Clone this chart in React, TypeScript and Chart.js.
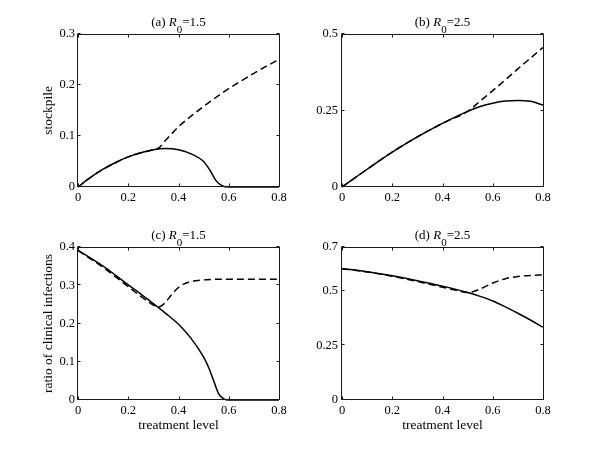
import React, { useEffect, useRef } from "react";
import { Chart, registerables } from "chart.js";

Chart.register(...registerables);

const FONT = "'Liberation Serif', 'Times New Roman', serif";

// ---- tick values ----
const X_TICKS = [0, 0.2, 0.4, 0.6, 0.8];
const Y_TICKS_A = [0, 0.1, 0.2, 0.3];
const Y_TICKS_B = [0, 0.25, 0.5];
const Y_TICKS_C = [0, 0.1, 0.2, 0.3, 0.4];
const Y_TICKS_D = [0, 0.25, 0.5, 0.7];

// ---- (a) R0 = 1.5, stockpile ----
const A_SOLID_X = [0, 0.05, 0.1, 0.15, 0.2, 0.25, 0.3, 0.35, 0.4, 0.45, 0.5, 0.525, 0.55, 0.575, 0.6, 0.7, 0.8];
const A_SOLID_Y = [0, 0.019, 0.035, 0.048, 0.059, 0.067, 0.073, 0.0755, 0.073, 0.065, 0.05, 0.033, 0.012, 0.002, 0, 0, 0];
const A_DASH_X = [0, 0.05, 0.1, 0.15, 0.2, 0.25, 0.3, 0.32, 0.35, 0.4, 0.45, 0.5, 0.55, 0.6, 0.65, 0.7, 0.75, 0.8];
const A_DASH_Y = [0, 0.019, 0.035, 0.048, 0.059, 0.067, 0.073, 0.076, 0.092, 0.118, 0.139, 0.158, 0.176, 0.193, 0.208, 0.223, 0.237, 0.25];

// ---- (b) R0 = 2.5, stockpile ----
const B_SOLID_X = [0, 0.1, 0.2, 0.3, 0.4, 0.5, 0.55, 0.6, 0.65, 0.7, 0.75, 0.8];
const B_SOLID_Y = [0, 0.058, 0.114, 0.164, 0.208, 0.247, 0.263, 0.274, 0.281, 0.283, 0.28, 0.268];
const B_DASH_X = [0, 0.1, 0.2, 0.3, 0.4, 0.5, 0.55, 0.6, 0.65, 0.7, 0.75, 0.8];
const B_DASH_Y = [0, 0.058, 0.114, 0.164, 0.208, 0.247, 0.281, 0.315, 0.35, 0.386, 0.421, 0.456];

// ---- (c) R0 = 1.5, ratio of clinical infections ----
const C_SOLID_X = [0, 0.05, 0.1, 0.15, 0.2, 0.25, 0.3, 0.35, 0.4, 0.45, 0.5, 0.52, 0.54, 0.56, 0.58, 0.6, 0.65, 0.8];
const C_SOLID_Y = [0.391, 0.371, 0.35, 0.326, 0.301, 0.277, 0.252, 0.226, 0.198, 0.161, 0.112, 0.085, 0.05, 0.016, 0.003, 0, 0, 0];
const C_DASH_X = [0, 0.05, 0.1, 0.15, 0.2, 0.25, 0.3, 0.32, 0.34, 0.36, 0.38, 0.4, 0.42, 0.45, 0.5, 0.55, 0.6, 0.8];
const C_DASH_Y = [0.391, 0.369, 0.347, 0.322, 0.296, 0.271, 0.248, 0.243, 0.25, 0.265, 0.281, 0.294, 0.303, 0.31, 0.314, 0.3155, 0.316, 0.316];

// ---- (d) R0 = 2.5, ratio of clinical infections ----
const D_SOLID_X = [0, 0.1, 0.2, 0.3, 0.4, 0.5, 0.55, 0.6, 0.65, 0.7, 0.75, 0.8];
const D_SOLID_Y = [0.601, 0.587, 0.568, 0.546, 0.521, 0.492, 0.474, 0.453, 0.426, 0.397, 0.366, 0.333];
const D_DASH_X = [0, 0.1, 0.2, 0.3, 0.4, 0.45, 0.5, 0.52, 0.55, 0.6, 0.65, 0.7, 0.75, 0.8];
const D_DASH_Y = [0.601, 0.586, 0.566, 0.542, 0.516, 0.503, 0.492, 0.495, 0.508, 0.535, 0.555, 0.565, 0.57, 0.572];

const pts = (xs: number[], ys: number[]) => xs.map((x, i) => ({ x, y: ys[i] }));

type Panel = {
  left: number;
  top: number;
  width: number;
  height: number;
  yAxisWidth: number;
  padTop: number;
  padRight: number;
  xAxisHeight: number;
  prefix: string;
  r0: string;
  yTicks: number[];
  yMax: number;
  yPad: number;
  yTitle?: string;
  xTitle?: string;
  solid: { x: number; y: number }[];
  dashed: { x: number; y: number }[];
};

const PANELS: Panel[] = [
  {
    left: 0, top: 0, width: 300, height: 225,
    yAxisWidth: 78, padTop: 34, padRight: 21, xAxisHeight: 38,
    prefix: "(a) ", r0: "1.5", yTicks: Y_TICKS_A, yMax: 0.3, yPad: 3,
    yTitle: "stockpile",
    solid: pts(A_SOLID_X, A_SOLID_Y), dashed: pts(A_DASH_X, A_DASH_Y),
  },
  {
    left: 300, top: 0, width: 300, height: 225,
    yAxisWidth: 42, padTop: 34, padRight: 57, xAxisHeight: 38,
    prefix: "(b) ", r0: "2.5", yTicks: Y_TICKS_B, yMax: 0.5, yPad: 4,
    solid: pts(B_SOLID_X, B_SOLID_Y), dashed: pts(B_DASH_X, B_DASH_Y),
  },
  {
    left: 0, top: 225, width: 300, height: 226,
    yAxisWidth: 78, padTop: 22, padRight: 21, xAxisHeight: 51,
    prefix: "(c) ", r0: "1.5", yTicks: Y_TICKS_C, yMax: 0.4, yPad: 3,
    yTitle: "ratio of clinical infections", xTitle: "treatment level",
    solid: pts(C_SOLID_X, C_SOLID_Y), dashed: pts(C_DASH_X, C_DASH_Y),
  },
  {
    left: 300, top: 225, width: 300, height: 226,
    yAxisWidth: 42, padTop: 22, padRight: 57, xAxisHeight: 51,
    prefix: "(d) ", r0: "2.5", yTicks: Y_TICKS_D, yMax: 0.7, yPad: 4,
    xTitle: "treatment level",
    solid: pts(D_SOLID_X, D_SOLID_Y), dashed: pts(D_DASH_X, D_DASH_Y),
  },
];

const boxPlugin = {
  id: "matlabBox",
  afterDatasetsDraw(chart: any, _args: any, opts: any) {
    const { ctx, chartArea } = chart;
    const { left, right, top, bottom } = chartArea;
    const xs = chart.scales.x;
    const ys = chart.scales.y;
    ctx.save();
    ctx.strokeStyle = "#1a1a1a";
    ctx.lineWidth = 1;
    const L = left - 0.5, R = right + 0.5, T = top + 0.5, B = bottom - 0.5;
    ctx.strokeRect(L, T, R - L, B - T);
    const tl = 3;
    ctx.beginPath();
    xs.ticks.forEach((t: any) => {
      const p = Math.round(xs.getPixelForValue(t.value)) + 0.5;
      ctx.moveTo(p, B); ctx.lineTo(p, B - tl);
      ctx.moveTo(p, T); ctx.lineTo(p, T + tl);
    });
    ys.ticks.forEach((t: any) => {
      const p = Math.round(ys.getPixelForValue(t.value)) - 0.5;
      ctx.moveTo(L, p); ctx.lineTo(L + tl, p);
      ctx.moveTo(R, p); ctx.lineTo(R - tl, p);
    });
    ctx.stroke();

    // title: (x) R_0=value
    const parts = [
      { t: opts.prefix, f: `13px ${FONT}`, dy: 0 },
      { t: "R", f: `italic 13px ${FONT}`, dy: 0 },
      { t: "0", f: `11px ${FONT}`, dy: 7.5 },
      { t: "=" + opts.value, f: `13px ${FONT}`, dy: 0 },
    ];
    let total = 0;
    const widths = parts.map((p) => {
      ctx.font = p.f;
      const w = ctx.measureText(p.t).width;
      total += w;
      return w;
    });
    let x = (left + right) / 2 - total / 2;
    const base = top - 8.5;
    ctx.fillStyle = "#000";
    ctx.textAlign = "left";
    ctx.textBaseline = "alphabetic";
    parts.forEach((p, i) => {
      ctx.font = p.f;
      ctx.fillText(p.t, x, base + p.dy);
      x += widths[i];
    });
    ctx.restore();
  },
};

function PanelChart({ p }: { p: Panel }) {
  const ref = useRef<HTMLCanvasElement | null>(null);
  useEffect(() => {
    if (!ref.current) return;
    const tickFont = { family: FONT, size: 12.5 };
    const titleFont = { family: FONT, size: 13.5 };
    const chart = new Chart(ref.current, {
      type: "line",
      data: {
        datasets: [
          {
            data: p.dashed,
            borderColor: "#000",
            borderWidth: 1.5,
            borderDash: [7, 4],
            pointRadius: 0,
            cubicInterpolationMode: "monotone",
            fill: false,
            clip: 2,
          },
          {
            data: p.solid,
            borderColor: "#000",
            borderWidth: 1.5,
            pointRadius: 0,
            cubicInterpolationMode: "monotone",
            fill: false,
            clip: 2,
          },
        ],
      },
      options: {
        responsive: false,
        animation: false,
        devicePixelRatio: 1,
        layout: { padding: { left: 0, right: p.padRight, top: p.padTop, bottom: 0 } },
        plugins: {
          legend: { display: false },
          tooltip: { enabled: false },
          matlabBox: { prefix: p.prefix, value: p.r0 },
        } as any,
        scales: {
          x: {
            type: "linear",
            min: 0,
            max: 0.8,
            afterBuildTicks: (s: any) => {
              s.ticks = X_TICKS.map((v) => ({ value: v }));
            },
            afterFit: (s: any) => {
              s.height = p.xAxisHeight;
            },
            grid: { display: false, drawTicks: false },
            border: { display: false },
            ticks: {
              padding: 3,
              color: "#000",
              font: tickFont,
              maxRotation: 0,
              autoSkip: false,
              callback: (v: any) => String(v),
            },
            title: p.xTitle
              ? {
                  display: true,
                  text: p.xTitle,
                  color: "#000",
                  font: titleFont,
                  padding: { top: 0, bottom: 17.4 },
                }
              : { display: false },
          },
          y: {
            type: "linear",
            min: 0,
            max: p.yMax,
            afterBuildTicks: (s: any) => {
              s.ticks = p.yTicks.map((v) => ({ value: v }));
            },
            afterFit: (s: any) => {
              s.width = p.yAxisWidth;
            },
            grid: { display: false, drawTicks: false },
            border: { display: false },
            ticks: {
              padding: p.yPad,
              color: "#000",
              font: tickFont,
              autoSkip: false,
              callback: (v: any) => String(v),
            },
            title: p.yTitle
              ? {
                  display: true,
                  text: p.yTitle,
                  color: "#000",
                  font: titleFont,
                  padding: { top: 40.2, bottom: 0 },
                }
              : { display: false },
          },
        },
      } as any,
      plugins: [boxPlugin as any],
    });
    return () => chart.destroy();
  }, [p]);
  return (
    <canvas
      ref={ref}
      width={p.width}
      height={p.height}
      style={{ position: "absolute", left: p.left, top: p.top, width: p.width, height: p.height, display: "block" }}
    />
  );
}

export default function App() {
  return (
    <div style={{ position: "absolute", left: 0, top: 0, width: 600, height: 451, background: "#fff", overflow: "hidden" }}>
      {PANELS.map((p, i) => (
        <PanelChart key={i} p={p} />
      ))}
    </div>
  );
}
